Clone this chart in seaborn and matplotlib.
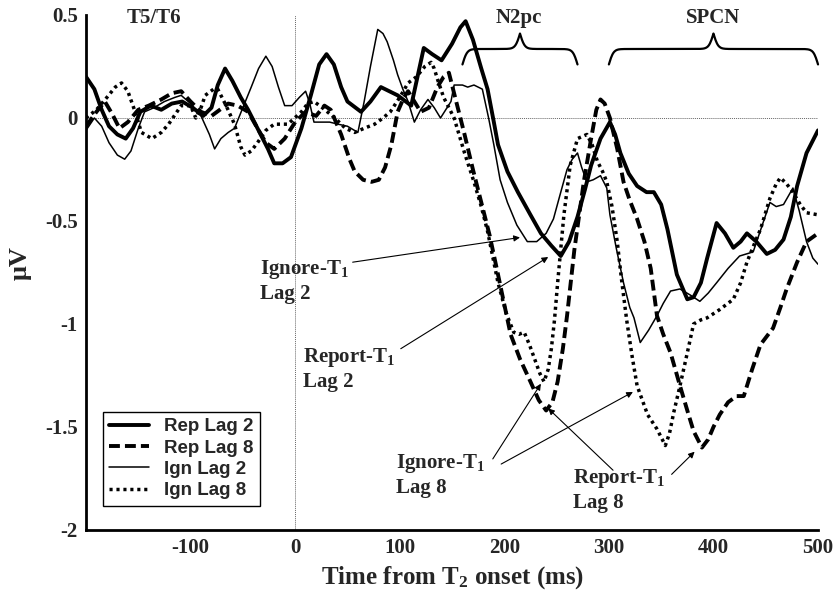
import numpy as np
import pandas as pd
import matplotlib
matplotlib.use('Agg')
import matplotlib.pyplot as plt
import seaborn as sns

# === DATA ===
rep2_t = [-200, -192, -185, -178, -170, -162, -155, -148, -138, -128, -118, -108, -98, -88, -80, -74, -67, -60,
          -52, -45, -35, -26, -20, -12, -4, 6, 15, 23, 30, 37, 44, 50, 63, 72, 82, 90, 98, 111, 117, 123, 131,
          140, 150, 158, 163, 170, 178, 184, 190, 194, 203, 213, 225, 235, 245, 254, 262, 270, 277, 283, 292,
          301, 306, 311, 319, 327, 336, 343, 350, 356, 365, 375, 381, 388, 394, 403, 411, 419, 426, 432, 441,
          451, 459, 467, 474, 480, 489, 500]
rep2_v = [0.20, 0.14, 0.04, -0.04, -0.08, -0.10, -0.05, 0.03, 0.06, 0.04, 0.07, 0.08, 0.05, 0.01, 0.05, 0.16,
          0.24, 0.18, 0.10, 0.04, -0.06, -0.15, -0.22, -0.22, -0.19, -0.05, 0.11, 0.26, 0.31, 0.26, 0.15, 0.08,
          0.03, 0.08, 0.15, 0.13, 0.11, 0.06, 0.20, 0.34, 0.31, 0.28, 0.36, 0.44, 0.47, 0.38, 0.24, 0.14, -0.02,
          -0.13, -0.26, -0.36, -0.47, -0.56, -0.62, -0.67, -0.60, -0.48, -0.35, -0.23, -0.10, -0.02, -0.08,
          -0.17, -0.27, -0.33, -0.36, -0.36, -0.42, -0.54, -0.76, -0.88, -0.87, -0.80, -0.68, -0.51, -0.56,
          -0.63, -0.60, -0.56, -0.60, -0.66, -0.64, -0.59, -0.48, -0.33, -0.17, -0.06]

rep8_t = [-200, -190, -182, -175, -168, -160, -150, -140, -128, -118, -109, -100, -90, -80, -72, -64, -55, -45,
          -36, -28, -20, -10, 0, 10, 20, 28, 34, 44, 52, 57, 65, 73, 80, 86, 92, 98, 104, 108, 114, 120, 128,
          136, 142, 147, 153, 162, 170, 178, 186, 194, 206, 215, 225, 233, 240, 246, 251, 256, 260, 267, 276,
          283, 288, 292, 296, 301, 308, 314, 320, 327, 334, 340, 346, 352, 359, 368, 375, 381, 389, 395, 400,
          406, 414, 422, 429, 437, 445, 451, 457, 464, 470, 480, 489, 500]
rep8_v = [-0.04, 0.03, 0.08, 0.02, -0.05, -0.02, 0.04, 0.06, 0.09, 0.12, 0.13, 0.08, 0.03, 0.01, 0.04, 0.07,
          0.06, 0.03, -0.05, -0.12, -0.15, -0.10, -0.02, 0.03, 0.01, 0.06, 0.04, -0.08, -0.20, -0.26, -0.30,
          -0.31, -0.30, -0.24, -0.13, 0.03, 0.10, 0.13, 0.08, 0.03, 0.05, 0.15, 0.20, 0.22, 0.10, -0.08, -0.25,
          -0.41, -0.57, -0.76, -1.05, -1.17, -1.28, -1.37, -1.42, -1.38, -1.28, -1.12, -0.96, -0.64, -0.31,
          -0.10, 0.04, 0.09, 0.07, 0.00, -0.15, -0.31, -0.40, -0.49, -0.60, -0.73, -0.96, -1.05, -1.14, -1.30,
          -1.42, -1.52, -1.60, -1.56, -1.50, -1.44, -1.38, -1.35, -1.35, -1.22, -1.10, -1.06, -1.02, -0.92,
          -0.83, -0.70, -0.60, -0.56]

ign2_t = [-200, -192, -185, -178, -170, -163, -157, -150, -144, -135, -125, -115, -109, -100, -90, -82, -77, -71,
          -64, -58, -50, -42, -35, -28, -22, -16, -10, -3, 4, 10, 14, 18, 25, 33, 41, 50, 60, 66, 72, 79, 84,
          88, 94, 98, 103, 108, 114, 120, 127, 133, 139, 144, 149, 152, 160, 165, 171, 179, 185, 190, 196, 203,
          212, 222, 231, 240, 247, 254, 260, 265, 270, 274, 279, 285, 292, 298, 301, 307, 314, 320, 324, 330,
          338, 346, 352, 359, 368, 378, 387, 395, 403, 414, 425, 438, 446, 454, 460, 467, 476, 482, 489, 495, 500]
ign2_v = [-0.06, 0.00, -0.04, -0.12, -0.18, -0.20, -0.16, -0.05, 0.03, 0.05, 0.08, 0.10, 0.11, 0.07, 0.01,
          -0.08, -0.15, -0.10, -0.07, -0.05, 0.05, 0.15, 0.24, 0.30, 0.25, 0.15, 0.06, 0.06, 0.10, 0.13, 0.07,
          -0.02, -0.02, -0.02, -0.03, -0.04, -0.07, 0.08, 0.25, 0.43, 0.41, 0.37, 0.28, 0.21, 0.14, 0.08, -0.02,
          0.04, 0.09, 0.05, 0.00, 0.04, 0.08, 0.16, 0.16, 0.15, 0.16, 0.14, 0.00, -0.13, -0.30, -0.41, -0.52,
          -0.60, -0.60, -0.56, -0.49, -0.36, -0.25, -0.20, -0.17, -0.24, -0.31, -0.30, -0.28, -0.34, -0.47,
          -0.63, -0.80, -0.92, -0.97, -1.09, -1.03, -0.96, -0.90, -0.84, -0.83, -0.86, -0.89, -0.85, -0.80,
          -0.73, -0.67, -0.65, -0.53, -0.41, -0.43, -0.42, -0.34, -0.45, -0.60, -0.68, -0.71]

ign8_t = [-200, -190, -180, -172, -166, -160, -153, -147, -137, -128, -121, -109, -100, -95, -90, -86, -78, -74,
          -66, -58, -52, -48, -42, -36, -28, -20, -7, 6, 12, 18, 26, 38, 48, 57, 66, 76, 84, 91, 100, 108, 116,
          124, 130, 133, 136, 142, 148, 152, 162, 171, 178, 184, 194, 202, 209, 214, 219, 224, 229, 234, 238,
          242, 245, 248, 251, 257, 263, 270, 279, 284, 289, 294, 298, 303, 308, 312, 317, 322, 327, 337, 346,
          354, 358, 362, 368, 375, 381, 388, 394, 406, 419, 426, 432, 440, 445, 454, 460, 464, 470, 476, 483,
          489, 500]
ign8_v = [0.00, 0.04, 0.10, 0.15, 0.17, 0.13, 0.03, -0.07, -0.10, -0.07, -0.03, 0.06, 0.06, 0.00, 0.05, 0.11,
          0.14, 0.14, 0.06, -0.03, -0.14, -0.18, -0.16, -0.12, -0.06, -0.03, -0.03, 0.03, 0.07, 0.08, 0.05,
          0.00, -0.05, -0.07, -0.05, -0.03, 0.00, 0.03, 0.10, 0.17, 0.20, 0.25, 0.27, 0.24, 0.19, 0.10, 0.04,
          0.00, -0.17, -0.31, -0.43, -0.55, -0.80, -0.95, -1.04, -1.05, -1.04, -1.10, -1.17, -1.24, -1.28,
          -1.22, -1.12, -0.98, -0.80, -0.47, -0.23, -0.10, -0.08, -0.13, -0.21, -0.26, -0.31, -0.43, -0.60,
          -0.78, -0.98, -1.15, -1.30, -1.44, -1.51, -1.59, -1.53, -1.43, -1.30, -1.14, -1.00, -0.98, -0.97,
          -0.93, -0.88, -0.80, -0.70, -0.60, -0.54, -0.39, -0.32, -0.29, -0.32, -0.36, -0.42, -0.46, -0.47]

labels = ['Rep Lag 2', 'Rep Lag 8', 'Ign Lag 2', 'Ign Lag 8']
x_ticks = [-100, 0, 100, 200, 300, 400, 500]
y_ticks = [0.5, 0, -0.5, -1, -1.5, -2]
y_tick_labels = ['0.5', '0', '-0.5', '-1', '-1.5', '-2']

# === STYLE ===
sns.set_theme(style='white')
plt.rcParams['font.family'] = ['Liberation Serif', 'DejaVu Serif']
plt.rcParams['font.weight'] = 'bold'
plt.rcParams['mathtext.fontset'] = 'custom'
plt.rcParams['mathtext.rm'] = 'Liberation Serif:bold'
plt.rcParams['mathtext.it'] = 'Liberation Serif:bold'
plt.rcParams['mathtext.bf'] = 'Liberation Serif:bold'
plt.rcParams['axes.unicode_minus'] = False

fig, ax = plt.subplots(figsize=(8.39, 6.0), dpi=100)
fig.subplots_adjust(left=0.1025, right=0.975, top=0.975, bottom=0.1167)

# reference lines
ax.axhline(0, color='0.4', lw=0.7, ls=(0, (1, 1)), zorder=1)
ax.axvline(0, color='0.4', lw=0.7, ls=(0, (1, 1)), zorder=1)

series = [
    (rep2_t, rep2_v, dict(lw=2.8, linestyle='-')),
    (rep8_t, rep8_v, dict(lw=2.8, linestyle=(0, (2.8, 1.3)))),
    (ign2_t, ign2_v, dict(lw=1.1, linestyle='-')),
    (ign8_t, ign8_v, dict(lw=2.5, linestyle=(0, (0.9, 1.1)))),
]
for (t, v, st), lab in zip(series, labels):
    sns.lineplot(x=t, y=v, ax=ax, color='black', label=lab, **st)

ax.set_xlim(-200, 500)
ax.set_ylim(-2, 0.5)
ax.set_xticks(x_ticks)
ax.set_xticklabels([str(x) for x in x_ticks])
ax.set_yticks(y_ticks)
ax.set_yticklabels(y_tick_labels)
ax.tick_params(direction='in', length=5, width=2, labelsize=15, pad=6)
for s in ['top', 'right']:
    ax.spines[s].set_visible(False)
for s in ['left', 'bottom']:
    ax.spines[s].set_linewidth(2)
    ax.spines[s].set_color('black')

ax.set_xlabel('Time from T$_2$ onset (ms)', fontsize=18, fontweight='bold')
ax.xaxis.set_label_coords(0.501, -0.067)
ax.set_ylabel('μV', fontsize=19, fontweight='bold', va='center')
ax.yaxis.set_label_coords(-0.09, 0.518)

leg = ax.legend(loc='lower left', bbox_to_anchor=(0.023, 0.047), borderaxespad=0,
                frameon=True, fancybox=False, edgecolor='black', framealpha=1,
                handlelength=2.1, handletextpad=0.8, labelspacing=0.22, borderpad=0.35,
                prop={'family': 'Liberation Sans', 'weight': 'bold', 'size': 13.5})
leg.get_frame().set_linewidth(1.0)


# curly braces over the components
def brace(ax, x0, x1, y_end, y_tip, beta=0.45):
    x = np.linspace(x0, x1, 301)
    half = x[:151]
    yh = 1 / (1 + np.exp(-beta * (half - half[0]))) + 1 / (1 + np.exp(-beta * (half - half[-1])))
    y = np.concatenate((yh, yh[-2::-1]))
    y = y_end + (y - 0.5) * (y_tip - y_end)
    ax.plot(x, y, color='black', lw=1.6, clip_on=False)


brace(ax, 160, 270, 0.26, 0.41)
brace(ax, 300, 500, 0.26, 0.41)

ax.text(-161, 0.485, 'T5/T6', fontsize=15, ha='left', va='center')
ax.text(214, 0.485, 'N2pc', fontsize=15, ha='center', va='center')
ax.text(400, 0.485, 'SPCN', fontsize=15, ha='center', va='center')

# labels with arrows
txt = dict(fontsize=15, ha='left', va='top', linespacing=1.2)
ax.text(-34, -0.68, 'Ignore-T$_1$\nLag 2', **txt)
ax.text(7.6, -1.105, 'Report-T$_1$\nLag 2', **txt)
ax.text(96, -1.62, 'Ignore-T$_1$\nLag 8', **txt)
ax.text(266, -1.695, 'Report-T$_1$\nLag 8', **txt)

arrows = [
    ((55, -0.70), (215, -0.58)),
    ((101, -1.12), (242, -0.675)),
    ((189, -1.655), (235, -1.29)),
    ((197, -1.68), (323, -1.33)),
    ((304, -1.71), (242, -1.41)),
    ((360, -1.73), (382, -1.62)),
]
for tail, head in arrows:
    ax.annotate('', xy=head, xytext=tail,
                arrowprops=dict(arrowstyle='-|>', color='black', lw=0.8, mutation_scale=9,
                                shrinkA=0, shrinkB=0))

fig.savefig('out.png', dpi=100)
